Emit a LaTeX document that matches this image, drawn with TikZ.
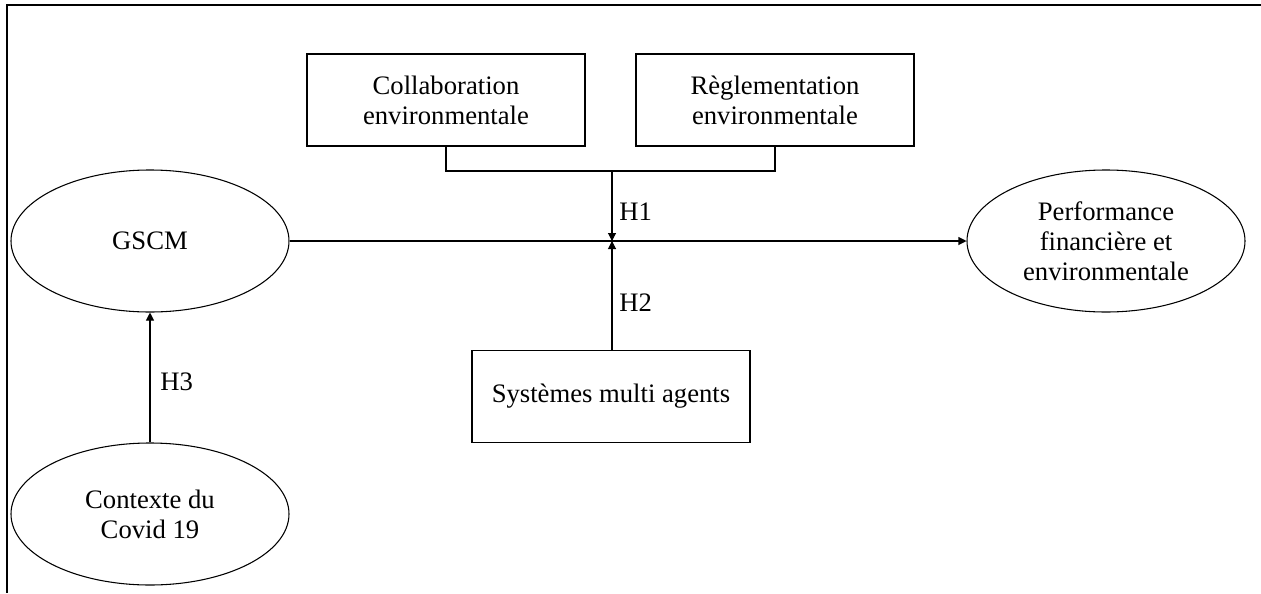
\documentclass[tikz,border=0pt]{standalone}
\usepackage{fontspec}
\setmainfont{Liberation Serif}
\usetikzlibrary{arrows.meta,shapes.geometric}
\begin{document}
\begin{tikzpicture}[x=0.75pt,y=-0.75pt,
  txt/.style={font=\fontsize{20}{22.5}\selectfont,align=center,inner sep=0pt},
  box/.style={txt,draw,line width=0.8pt,minimum width=208.5pt,minimum height=69pt},
  oval/.style={txt,draw,ellipse,line width=0.8pt,minimum width=208.5pt,minimum height=106.5pt},
  link/.style={line width=0.8pt},
  arr/.style={link,-{Triangle[length=6pt,width=6pt]}},
  hlabel/.style={txt,anchor=west}]
  \useasboundingbox (0,0) rectangle (1261,593);
  % outer frame (top and left edges)
  \draw[line width=2.2pt] (1261,5) -- (7,5) -- (7,593);

  % nodes
  \node[box]  (collab) at (446,100) {Collaboration\\environmentale};
  \node[box]  (regl)   at (775,100) {Règlementation\\environmentale};
  \node[box]  (sma)    at (611,396.5) {Systèmes multi agents};
  \node[oval] (gscm)   at (150,241) {GSCM};
  \node[oval] (covid)  at (150,514) {Contexte du\\Covid 19};
  \node[oval] (perf)   at (1106,241) {Performance\\financière et\\environmentale};

  % junction points
  \coordinate (join) at (612,171);
  \coordinate (mid)  at (612,241);

  % connectors
  \draw[link] (collab.south) |- (join) -| (regl.south);
  \draw[arr] (gscm.east) -- (perf.west);
  \draw[arr] (join) -- (mid);
  \draw[arr] (sma.north -| mid) -- (mid);
  \draw[arr] (covid.north) -- (gscm.south);

  % hypothesis labels
  \node[hlabel] (h1) at (619,212) {H1};
  \node[hlabel] (h2) at (619,303) {H2};
  \node[hlabel] (h3) at (160,382) {H3};
\end{tikzpicture}
\end{document}
